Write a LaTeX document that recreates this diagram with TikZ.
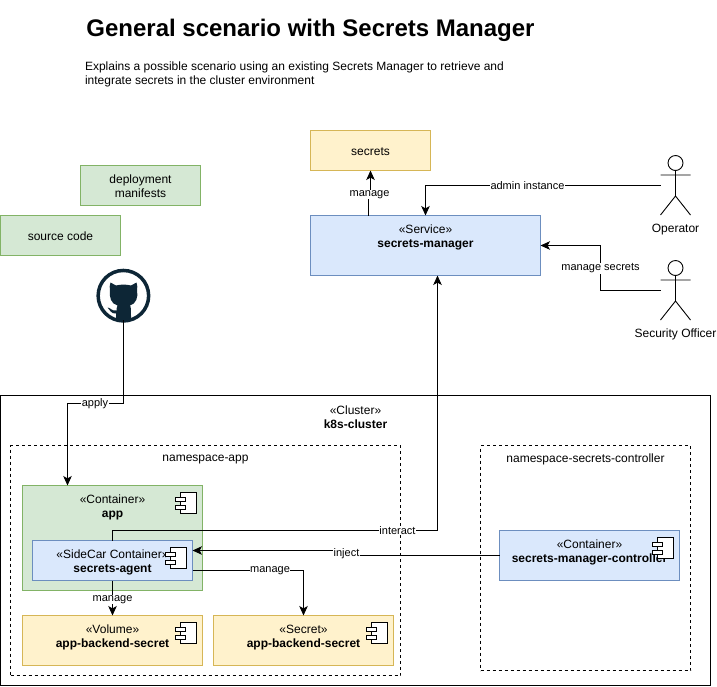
\documentclass[tikz,border=0pt]{standalone}
\usepackage{fontspec}
\setmainfont{Liberation Sans}
\usetikzlibrary{arrows.meta,calc}
\definecolor{ghc}{HTML}{0D2636}
\tikzset{
  x=1pt,y=-1pt,
  box/.style={draw,rectangle,inner sep=0pt,outer sep=0pt,line width=1pt,anchor=north west,font=\fontsize{12}{14}\selectfont,align=center},
  yellowbox/.style={box,fill={rgb,255:red,255;green,242;blue,204},draw={rgb,255:red,214;green,182;blue,86}},
  bluebox/.style={box,fill={rgb,255:red,218;green,232;blue,252},draw={rgb,255:red,108;green,142;blue,191}},
  greenbox/.style={box,fill={rgb,255:red,213;green,232;blue,212},draw={rgb,255:red,130;green,179;blue,102}},
  plainbox/.style={box,draw=black},
  nsbox/.style={box,draw=black,dash pattern=on 3pt off 3pt},
  txt/.style={inner sep=0pt,outer sep=0pt,align=center,font=\fontsize{12}{14}\selectfont,text=black},
  lbl/.style={fill=white,inner sep=0.5pt,outer sep=0pt,font=\fontsize{11}{13}\selectfont,text=black},
  conn/.style={line width=1pt,-{Stealth[length=9.5pt,width=8.5pt,inset=2.4pt]}},
  actorline/.style={line width=0.9pt},
  pics/compicon/.style={code={
    \draw[line width=1pt,fill=white] (-16,0) rectangle (0,21);
    \draw[line width=1pt,fill=white] (-21,4.5) rectangle (-11,8.5);
    \draw[line width=1pt,fill=white] (-21,12.5) rectangle (-11,16.5);
  }},
  pics/actorfig/.style={code={
    \draw[actorline] (0,-21) circle (7.5);
    \draw[actorline] (0,-13.5) -- (0,12) (-15,-9) -- (15,-9) (-15,31) -- (0,12) -- (15,31);
  }}
}
\begin{document}
\begin{tikzpicture}
\useasboundingbox (0,0) rectangle (717,686);
% title
\node[txt,anchor=center,font=\bfseries\fontsize{24}{28}\selectfont] (title) at (310.5,30) {General scenario with Secrets Manager};
\node[txt,anchor=north west,align=left] (desc) at (85,61.5) {Explains a possible scenario using an existing Secrets Manager to retrieve and\\integrate secrets in the cluster environment};
% top boxes
\node[yellowbox,minimum width=120pt,minimum height=40pt] (secrets) at (310.5,130.5) {};
\node[txt] (secretstxt) at ($(secrets.center)+(0,1)$) {secrets};
\node[bluebox,minimum width=230pt,minimum height=60pt] (svc) at (310.5,215.5) {};
\node[txt] (svctxt) at ($(svc.north)+(0,22)$) {«Service»\\\textbf{secrets-manager}};
\node[greenbox,minimum width=120pt,minimum height=40pt] (deploy) at (80.5,165.5) {};
\node[txt] (deploytxt) at ($(deploy.center)+(0,1)$) {deployment\\manifests};
\node[greenbox,minimum width=120pt,minimum height=40pt] (source) at (0.5,215.5) {};
\node[txt] (sourcetxt) at ($(source.center)+(0,1)$) {source code};
% github
\node[draw=ghc,circle,line width=3.5pt,minimum size=50.5pt,inner sep=0pt,outer sep=0pt] (gh) at (123.4,295.7) {};
\coordinate (ghb) at (123.4,320);
\fill[ghc] (110.5,282.5) -- (116,285.5) .. controls (120,284.3) and (127,284.3) .. (131,285.5) -- (136.5,282.5)
  .. controls (137.5,286) and (137.5,288) .. (137,290) .. controls (138.5,297) and (136,304) .. (130,305.5)
  .. controls (131,307) and (131,309) .. (131,319) -- (116,319)
  .. controls (116,316) and (116,314) .. (116,313.5) .. controls (111,314) and (110,310) .. (107.5,307.5)
  .. controls (110.5,307.5) and (112,311.5) .. (116.5,310.5) .. controls (116.5,308) and (117,307) .. (117.5,305.5)
  .. controls (111,304) and (109,297) .. (110,290) .. controls (109.5,288) and (109.5,286) .. (110.5,282.5) -- cycle;
% actors
\pic at (675.5,184) {actorfig};
\node[txt] (oplbl) at (675.5,229.5) {Operator};
\coordinate (op) at (660.5,185.5);
\pic at (675.5,289) {actorfig};
\node[txt] (seclbl) at (675.5,334.5) {Security Officer};
\coordinate (so) at (660.5,290.5);
% cluster
\node[plainbox,minimum width=710pt,minimum height=290pt] (cluster) at (0.5,395.5) {};
\node[txt] (cltxt) at ($(cluster.north)+(0,21.5)$) {«Cluster»\\\textbf{k8s-cluster}};
\node[nsbox,minimum width=390pt,minimum height=230pt] (nsapp) at (10.5,445.5) {};
\node[txt] (nsapptxt) at ($(nsapp.north)+(0,14)$) {namespace-app};
\node[nsbox,minimum width=210pt,minimum height=225pt] (nsctl) at (480.5,445.5) {};
\node[txt] (nsctltxt) at ($(nsctl.north)+(0,14)$) {namespace-secrets-controller};
% components
\node[greenbox,minimum width=180pt,minimum height=105pt] (app) at (22.5,485.5) {};
\node[txt] (apptxt) at ($(app.north)+(0,22)$) {«Container»\\\textbf{app}};
\pic at ($(app.north east)+(-6,7)$) {compicon};
\node[bluebox,minimum width=160pt,minimum height=40pt] (agent) at (32.5,540.5) {};
\node[txt] (agenttxt) at ($(agent.north)+(0,22)$) {«SideCar Container»\\\textbf{secrets-agent}};
\pic at ($(agent.north east)+(-6,7)$) {compicon};
\node[yellowbox,minimum width=180pt,minimum height=50pt] (vol) at (22.5,615.5) {};
\node[txt] (voltxt) at ($(vol.north)+(0,22)$) {«Volume»\\\textbf{app-backend-secret}};
\pic at ($(vol.north east)+(-6,7)$) {compicon};
\node[yellowbox,minimum width=180pt,minimum height=50pt] (sec) at (213.5,615.5) {};
\node[txt] (sectxt) at ($(sec.north)+(0,22)$) {«Secret»\\\textbf{app-backend-secret}};
\pic at ($(sec.north east)+(-6,7)$) {compicon};
\node[bluebox,minimum width=180pt,minimum height=50pt] (ctl) at (499.5,530.5) {};
\node[txt] (ctltxt) at ($(ctl.north)+(0,22)$) {«Container»\\\textbf{secrets-manager-controller}};
\pic at ($(ctl.north east)+(-6,7)$) {compicon};
% connectors
\draw[conn] ($(svc.north west)+(58,0)$) -- ++(0,-22) -| (secrets.south);
\node[lbl] (l1) at (369.5,194.5) {manage};
\draw[conn] (op) -| (svc.north);
\node[lbl] (l2) at (527.5,186) {admin instance};
\draw[conn] (so) -| (600.5,245.5) -- (svc.east);
\node[lbl] (l3) at (600.5,268.5) {manage secrets};
\draw[conn] (ghb) |- (67.5,403.5) -- (67.5,485.5);
\node[lbl] (l4) at (95,404) {apply};
\draw[conn] (agent.north) -- ++(0,-10) -| (437.5,275.5);
\node[lbl] (l5) at (397.5,530.5) {interact};
\draw[conn] (ctl.west) -- (346.5,555.5) -- (346.5,550.5) -- ($(agent.north east)+(0,10)$);
\node[lbl] (l6) at (346.5,554) {inject};
\draw[conn] ($(agent.south east)+(0,-10)$) -| (sec.north);
\node[lbl] (l7) at (270,571) {manage};
\draw[conn] (agent.south) -- (vol.north);
\node[lbl] (l8) at (112.5,599.5) {manage};
\end{tikzpicture}
\end{document}
